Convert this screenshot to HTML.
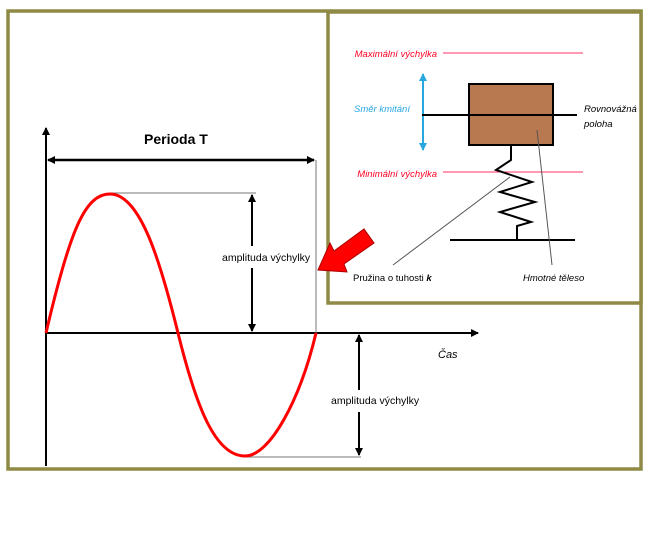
<!DOCTYPE html>
<html><head><style>body{margin:0;background:#fff}svg{display:block}</style></head><body>
<svg width="650" height="540" xmlns="http://www.w3.org/2000/svg" font-family="Liberation Sans, sans-serif">
<defs>
<marker id="a" markerWidth="8" markerHeight="8" refX="7" refY="4" orient="auto-start-reverse" markerUnits="userSpaceOnUse"><path d="M0,0 L8,4 L0,8 Z" fill="#000"/></marker>
<marker id="b" markerWidth="8" markerHeight="8" refX="7" refY="4" orient="auto-start-reverse" markerUnits="userSpaceOnUse"><path d="M0,0 L8,4 L0,8 Z" fill="#29a8e0"/></marker>
</defs>
<rect x="8" y="11" width="633" height="458" fill="none" stroke="#8f8a45" stroke-width="3.5"/>
<!-- axes -->
<line x1="46" y1="466" x2="46" y2="128" stroke="#000" stroke-width="2" marker-end="url(#a)"/>
<line x1="46" y1="333" x2="478" y2="333" stroke="#000" stroke-width="2" marker-end="url(#a)"/>
<text x="438" y="358" font-size="11" font-style="italic">Čas</text>
<!-- period -->
<line x1="48" y1="160" x2="314" y2="160" stroke="#000" stroke-width="2.5" marker-start="url(#a)" marker-end="url(#a)"/>
<line x1="316" y1="160" x2="316" y2="333" stroke="#777" stroke-width="1"/>
<text x="144" y="144" font-size="14" font-weight="bold">Perioda T</text>
<!-- amplitude upper -->
<line x1="110" y1="193" x2="256" y2="193" stroke="#777" stroke-width="1"/>
<line x1="252" y1="195" x2="252" y2="331" stroke="#000" stroke-width="2" marker-start="url(#a)" marker-end="url(#a)"/>
<rect x="222" y="246" width="80" height="22" fill="#fff"/>
<text x="222" y="261" font-size="10.5">amplituda výchylky</text>
<!-- amplitude lower -->
<line x1="245" y1="457" x2="361" y2="457" stroke="#777" stroke-width="1"/>
<line x1="359" y1="335" x2="359" y2="455" stroke="#000" stroke-width="2" marker-start="url(#a)" marker-end="url(#a)"/>
<rect x="330" y="390" width="82" height="22" fill="#fff"/>
<text x="331" y="404" font-size="10.5">amplituda výchylky</text>
<!-- sine -->
<path d="M46,333 C70,230 85,194 110,194 C140,194 160,260 178,333 C196,406 215,456 245,456 C270,456 300,400 316,333" fill="none" stroke="#f00" stroke-width="3"/>
<!-- inset -->
<rect x="328" y="12" width="313" height="291" fill="#fff" stroke="#8f8a45" stroke-width="3.5"/>
<line x1="443" y1="53" x2="583" y2="53" stroke="#f36" stroke-width="1"/>
<text x="437" y="57" font-size="9.5" font-style="italic" fill="#f02" text-anchor="end">Maximální výchylka</text>
<line x1="443" y1="172" x2="583" y2="172" stroke="#f36" stroke-width="1"/>
<text x="437" y="177" font-size="9.5" font-style="italic" fill="#f02" text-anchor="end">Minimální výchylka</text>
<line x1="423" y1="74" x2="423" y2="150" stroke="#29a8e0" stroke-width="2" marker-start="url(#b)" marker-end="url(#b)"/>
<text x="354" y="112" font-size="9.5" font-style="italic" fill="#29a8e0">Směr kmitání</text>
<rect x="469" y="84" width="84" height="61" fill="#b87850" stroke="#000" stroke-width="2"/>
<line x1="422" y1="115" x2="577" y2="115" stroke="#000" stroke-width="2"/>
<text x="584" y="112" font-size="9.5" font-style="italic">Rovnovážná</text>
<text x="584" y="127" font-size="9.5" font-style="italic">poloha</text>
<polyline points="511,145 511,160 496,170 532,182 500,192 535,202 500,212 531,222 517,226 517,240" fill="none" stroke="#000" stroke-width="2"/>
<line x1="450" y1="240" x2="575" y2="240" stroke="#000" stroke-width="2"/>
<line x1="510" y1="177" x2="393" y2="265" stroke="#555" stroke-width="1"/>
<line x1="537" y1="130" x2="552" y2="265" stroke="#555" stroke-width="1"/>
<text x="353" y="281" font-size="9.5">Pružina o tuhosti <tspan font-style="italic" font-weight="bold">k</tspan></text>
<text x="523" y="281" font-size="9.5" font-style="italic">Hmotné těleso</text>
<!-- red arrow -->
<polygon points="318,270 330,243 334,251 364,229 374,243 344,264 347,272" fill="#f00" stroke="#a00" stroke-width="1"/>
</svg>
</body></html>
